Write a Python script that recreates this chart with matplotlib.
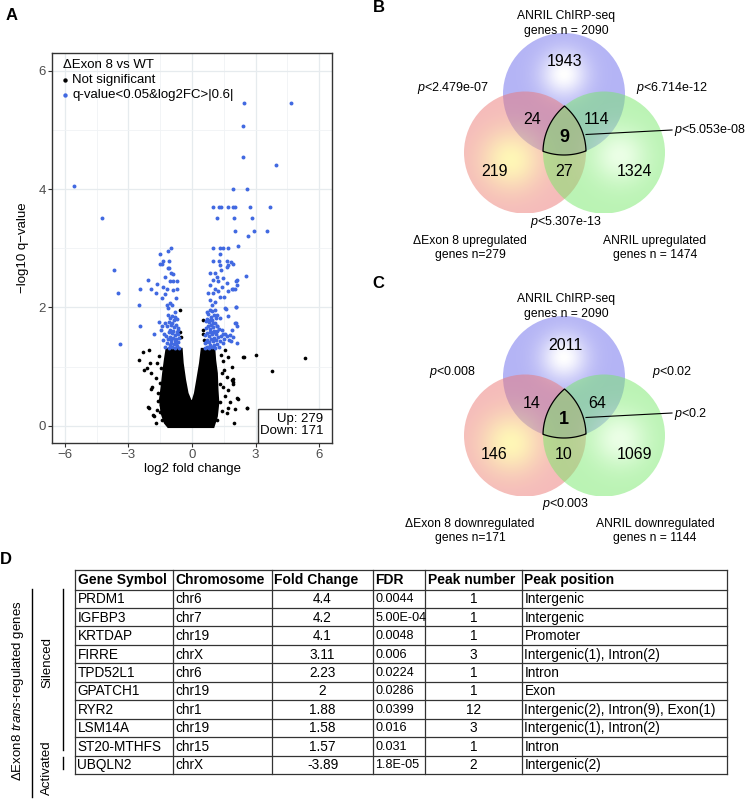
import numpy as np
import matplotlib.pyplot as plt
from matplotlib.patches import Circle, Rectangle, Polygon

plt.rcParams['font.family'] = ['Liberation Sans', 'DejaVu Sans']
plt.rcParams['mathtext.fontset'] = 'custom'
plt.rcParams['mathtext.it'] = 'Liberation Sans:italic'
plt.rcParams['mathtext.rm'] = 'Liberation Sans'

# ---------------- panel A: volcano plot ----------------
# outline of the solid block of non-significant genes
core_x = [-1.20, -1.28, -1.36, -1.43, -1.51, -1.43, -1.28, -1.12, 1.01, 1.17, 1.24,
          1.20, 1.17, 1.09, 1.05, 0.46, 0.38, 0.25, 0.14, 0.03, -0.06, -0.21, -0.33,
          -0.44, -0.49]
core_y = [1.30, 1.11, 0.89, 0.66, 0.44, 0.21, 0.05, -0.02, -0.02, 0.16, 0.39,
          0.61, 0.89, 1.11, 1.30, 1.30, 1.06, 0.78, 0.55, 0.42, 0.42, 0.55, 0.78,
          1.06, 1.30]
# scattered non-significant genes around the block
ns_x = [-2.52, -2.33, -2.03, -2.25, -2.12, -1.90, -2.06, -1.78, -1.93, -2.00, -1.64,
        -1.70, -1.51, -1.91, -1.38, -1.59, -2.02, -1.83, -1.51, -1.43, -1.67, -1.55,
        -1.45, -1.60, -1.48, -1.72, -0.57, -0.55, -0.52,
        2.41, 3.04, 5.31, 3.78, 1.92, 1.92, 1.92, 2.16, 2.03, 2.61, 1.98, 1.56, 1.71,
        1.87, 1.40, 1.64, 1.87, 1.48, 1.71, 1.56, 2.14, 1.32, 1.71, 2.58, 2.43, 1.64,
        1.17, 1.45, 1.35, 1.52, 1.30, 1.42, 1.80, 0.53, 0.50, 0.55, 0.52]
ns_y = [1.11, 1.24, 1.28, 0.95, 0.97, 0.65, 0.32, 0.17, 0.90, 1.06, 1.06,
        0.80, 0.72, 0.62, 0.55, 0.42, 0.30, 0.19, 0.24, 0.10, 0.27, 1.18,
        0.98, 0.55, 0.35, 0.05, 1.96, 1.58, 1.50,
        1.16, 1.20, 1.14, 0.92, 0.79, 0.74, 0.70, 0.46, 0.28, 0.30, 0.05, 1.28, 1.17,
        1.00, 0.89, 0.83, 0.78, 0.66, 0.61, 0.50, 0.47, 0.41, 0.30, 0.30, 1.17, 0.21,
        0.10, 1.10, 1.20, 0.95, 0.70, 0.25, 0.40, 1.78, 1.55, 1.45, 1.62]
# significant, down-regulated
down_x = [-5.56, -4.24, -3.68, -3.50, -3.40, -2.46, -2.08, -1.94, -2.50, -2.47, -1.71,
          -1.64, -1.78, -1.54, -1.43,
          -1.51, -1.12, -1.01, -1.42, -1.07, -1.36, -1.12, -0.99, -0.88, -1.28, -1.04,
          -0.91, -0.72, -1.36, -1.20, -0.91, -0.69, -1.28, -1.43, -0.76, -1.04, -1.20,
          -0.96, -1.12, -0.80, -1.53, -1.08,
          -0.62, -0.70, -0.78, -0.85, -0.93, -1.02, -1.10, -1.18, -1.25, -0.66, -0.74,
          -0.81, -0.90, -0.97, -1.05, -1.13, -1.22, -0.64, -0.72, -0.80, -0.88, -0.95,
          -1.03, -1.10, -1.30, -0.68, -0.77, -0.85, -0.92, -1.00, -1.08, -1.17, -0.70,
          -0.79, -0.87, -0.95, -1.02, -1.15, -0.74, -0.98, -0.66, -1.38, -1.45, -0.60,
          -1.27]
down_y = [4.06, 3.52, 2.63, 2.25, 1.38, 2.32, 2.47, 2.31, 2.05, 1.69, 2.24,
          2.40, 1.55, 1.76, 1.68,
          2.91, 2.96, 3.00, 2.73, 2.79, 2.78, 2.66, 2.58, 2.57, 2.52, 2.44,
          2.44, 2.44, 2.35, 2.31, 2.30, 2.32, 2.23, 2.16, 2.16, 2.08, 2.04,
          2.04, 1.99, 1.93, 2.73, 2.67,
          1.32, 1.35, 1.31, 1.38, 1.33, 1.36, 1.32, 1.40, 1.34, 1.42, 1.46,
          1.44, 1.49, 1.45, 1.50, 1.47, 1.52, 1.55, 1.58, 1.54, 1.60, 1.57,
          1.62, 1.58, 1.56, 1.66, 1.70, 1.67, 1.73, 1.70, 1.76, 1.68, 1.80,
          1.84, 1.78, 1.86, 1.82, 1.88, 1.38, 1.40, 1.62, 1.45, 1.62, 1.48,
          1.74]
# significant, up-regulated
up_x = [2.47, 4.69, 2.42, 2.42, 3.95, 1.95, 2.57,
        0.99, 1.29, 1.36, 1.70, 1.95, 2.03, 2.74, 3.68, 1.18, 2.00, 2.82, 2.05, 2.90,
        3.54, 2.66, 2.17, 0.98, 1.32, 1.48, 1.70,
        1.32, 1.01, 1.25, 1.63, 1.86, 1.95, 1.32, 1.70, 1.67, 1.36, 2.55, 2.11, 2.11,
        1.95,
        0.85, 1.09, 1.20, 0.98, 1.24, 1.48, 1.64, 1.40, 1.71, 1.87, 2.08, 2.03, 0.85,
        1.09, 0.77, 1.01, 1.24, 1.32, 1.51, 0.85, 1.09, 0.93, 0.85, 1.09, 1.17, 1.32,
        1.56, 2.08, 1.71, 2.03, 2.11, 1.87, 0.85, 1.01, 1.17, 1.40, 1.56, 1.64, 1.01,
        1.61, 2.06, 2.06, 1.95, 2.14, 1.80, 1.48, 1.76, 1.83,
        0.62, 0.70, 0.78, 0.86, 0.94, 1.02, 1.10, 1.18, 1.26, 0.65, 0.73, 0.81, 0.89,
        0.97, 1.05, 1.13, 1.22, 1.32, 0.63, 0.71, 0.79, 0.87, 0.95, 1.03, 1.11, 1.20,
        0.67, 0.75, 0.83, 0.91, 0.99, 1.07, 1.16, 0.64, 0.72, 0.80, 0.88, 0.96, 1.04,
        1.13, 0.69, 0.77, 0.92, 1.38, 1.45, 1.28, 0.60, 1.50]
up_y = [5.45, 5.45, 5.07, 4.55, 4.41, 4.00, 4.00,
        3.70, 3.70, 3.70, 3.70, 3.70, 3.70, 3.70, 3.70, 3.52, 3.52, 3.52, 3.30, 3.30,
        3.30, 3.20, 3.04, 3.00, 3.00, 3.00, 3.00,
        2.91, 2.79, 2.79, 2.79, 2.76, 2.73, 2.71, 2.71, 2.68, 2.64, 2.54, 2.46, 2.38,
        2.32,
        2.59, 2.58, 2.52, 2.46, 2.44, 2.49, 2.41, 2.35, 2.27, 2.32, 2.45, 2.32, 2.38,
        2.32, 2.24, 2.24, 2.27, 2.18, 2.18, 2.13, 2.10, 2.04, 1.96, 1.96, 1.87, 1.82,
        1.99, 2.00, 1.85, 1.73, 1.68, 1.62, 1.79, 1.73, 1.68, 1.62, 1.56, 1.51, 1.59,
        1.97, 2.00, 1.74, 1.50, 1.40, 1.54, 1.56, 1.45, 1.44,
        1.31, 1.34, 1.32, 1.37, 1.33, 1.36, 1.31, 1.38, 1.33, 1.42, 1.45, 1.41, 1.47,
        1.44, 1.49, 1.45, 1.50, 1.43, 1.53, 1.57, 1.52, 1.58, 1.55, 1.60, 1.56, 1.61,
        1.65, 1.68, 1.64, 1.71, 1.67, 1.73, 1.69, 1.77, 1.81, 1.76, 1.84, 1.79, 1.87,
        1.82, 1.92, 1.89, 1.94, 1.52, 1.40, 1.64, 1.40, 1.47]
n_up, n_down = 279, 171

# ---------------- panels B and C: Venn diagrams ----------------
# region order: ChIRP only, dExon8 only, ANRIL only, ChIRP&dExon8, ChIRP&ANRIL, dExon8&ANRIL, all three
venn_b_counts = [1943, 219, 1324, 24, 114, 27, 9]
venn_c_counts = [2011, 146, 1069, 14, 64, 10, 1]
# p-values: ChIRP&dExon8, ChIRP&ANRIL, dExon8&ANRIL, all three
venn_b_pvals = ['2.479e-07', '6.714e-12', '5.307e-13', '5.053e-08']
venn_c_pvals = ['0.008', '0.02', '0.003', '0.2']
venn_b_sets = ['ANRIL ChIRP-seq\ngenes n = 2090', '\u0394Exon 8 upregulated\ngenes n=279',
               'ANRIL upregulated\ngenes n = 1474']
venn_c_sets = ['ANRIL ChIRP-seq\ngenes n = 2090', '\u0394Exon 8 downregulated\ngenes n=171',
               'ANRIL downregulated\ngenes n = 1144']

# ---------------- panel D: table ----------------
table_header = ['Gene Symbol', 'Chromosome', 'Fold Change', 'FDR', 'Peak number', 'Peak position']
gene_symbols = ['PRDM1', 'IGFBP3', 'KRTDAP', 'FIRRE', 'TPD52L1', 'GPATCH1', 'RYR2',
                'LSM14A', 'ST20-MTHFS', 'UBQLN2']
chromosomes = ['chr6', 'chr7', 'chr19', 'chrX', 'chr6', 'chr19', 'chr1', 'chr19', 'chr15', 'chrX']
fold_changes = ['4.4', '4.2', '4.1', '3.11', '2.23', '2', '1.88', '1.58', '1.57', '-3.89']
fdr_values = ['0.0044', '5.00E-04', '0.0048', '0.006', '0.0224', '0.0286', '0.0399',
              '0.016', '0.031', '1.8E-05']
peak_numbers = ['1', '1', '1', '3', '1', '1', '12', '3', '1', '2']
peak_positions = ['Intergenic', 'Intergenic', 'Promoter', 'Intergenic(1), Intron(2)', 'Intron',
                  'Exon', 'Intergenic(2), Intron(9), Exon(1)', 'Intergenic(1), Intron(2)',
                  'Intron', 'Intergenic(2)']

W, H = 752, 801
fig = plt.figure(figsize=(W / 100, H / 100), dpi=100)

# ---- volcano ----
axv = fig.add_axes([52 / W, (H - 443) / H, 280 / W, 390 / H])
axv.set_xlim(-6.6, 6.6)
axv.set_ylim(-0.29, 6.3)
axv.set_xticks([-6, -3, 0, 3, 6])
axv.set_yticks([0, 2, 4, 6])
axv.set_xticks([-4.5, -1.5, 1.5, 4.5], minor=True)
axv.set_yticks([1, 3, 5], minor=True)
axv.grid(True, which='major', color='#e6ebee', lw=0.9)
axv.grid(True, which='minor', color='#f0f3f5', lw=0.6)
axv.set_axisbelow(True)
axv.tick_params(which='major', length=3, color='#333333', labelsize=9.5, labelcolor='#4d4d4d', pad=1.5)
axv.tick_params(which='minor', length=0)
for s in axv.spines.values():
    s.set_color('#333333')
    s.set_linewidth(1.0)
axv.fill(core_x, core_y, color='black', lw=1.5, zorder=2)
axv.scatter(ns_x, ns_y, s=7, color='black', lw=0, zorder=3)
axv.scatter(down_x + up_x, down_y + up_y, s=8, color='#4169e1', lw=0, zorder=4)
axv.set_xlabel('log2 fold change', fontsize=9.5, labelpad=1)
axv.set_ylabel('\u2212log10 q\u2212value', fontsize=9.5, labelpad=7)
axv.text(0.038, 0.969, '\u0394Exon 8 vs WT', transform=axv.transAxes, fontsize=9.5, va='center')
axv.scatter([0.046], [0.931], s=10, color='black', lw=0, transform=axv.transAxes, clip_on=False)
axv.scatter([0.046], [0.892], s=10, color='#4169e1', lw=0, transform=axv.transAxes, clip_on=False)
axv.text(0.0725, 0.931, 'Not significant', transform=axv.transAxes, fontsize=9.5, va='center')
axv.text(0.0725, 0.892, 'q-value<0.05&log2FC>|0.6|', transform=axv.transAxes, fontsize=9.5, va='center')
axv.add_patch(Rectangle((0.735, 0), 0.265, 0.087, transform=axv.transAxes, facecolor='white',
                        edgecolor='#333333', lw=1.0, zorder=5))
axv.text(0.968, 0.062, f'Up: {n_up}', transform=axv.transAxes, fontsize=9.5, ha='right',
         va='center', zorder=6)
axv.text(0.968, 0.030, f'Down: {n_down}', transform=axv.transAxes, fontsize=9.5, ha='right',
         va='center', zorder=6)

# ---- overlay in pixel units for the Venns, table and panel letters ----
ax = fig.add_axes([0, 0, 1, 1])
ax.axis('off')


def disc(cx, cy, r, base, glow, gdx, gdy, spread=0.42, a=0.5):
    n = 160
    X, Y = np.meshgrid(np.linspace(cx - r, cx + r, n), np.linspace(cy - r, cy + r, n))
    d = np.hypot(X - (cx + gdx), Y - (cy + gdy)) / r
    w = np.exp(-(d / spread) ** 2)[..., None]
    rgb = (np.array(base) * (1 - w) + np.array(glow) * w) / 255
    img = np.dstack([rgb, np.full((n, n), a)])
    im = ax.imshow(img, extent=(cx - r, cx + r, cy + r, cy - r), origin='upper',
                   aspect='auto', interpolation='bilinear', zorder=1)
    im.set_clip_path(Circle((cx, cy), r, transform=ax.transData))


def triple_outline(centers, r):
    th = np.linspace(0, 2 * np.pi, 1440)
    pts = []
    for i, (cx, cy) in enumerate(centers):
        px, py = cx + r * np.cos(th), cy + r * np.sin(th)
        keep = np.ones_like(th, bool)
        for j, (ox, oy) in enumerate(centers):
            if j != i:
                keep &= (px - ox) ** 2 + (py - oy) ** 2 <= r * r
        pts.append(np.c_[px[keep], py[keep]])
    pts = np.vstack(pts)
    c = pts.mean(0)
    return pts[np.argsort(np.arctan2(pts[:, 1] - c[1], pts[:, 0] - c[0]))]


def venn(off, counts, pvals, sets):
    r = 61
    top, left, right = (564, 94 + off), (525, 152.5 + off), (604, 152.5 + off)
    disc(*top, r, (105, 105, 235), (255, 255, 255), 0, -20, 0.38)
    disc(*left, r, (235, 118, 118), (255, 238, 110), -14, 8, 0.5)
    disc(*right, r, (118, 232, 105), (215, 255, 205), 16, 4, 0.45)
    ax.add_patch(Polygon(triple_outline([top, left, right], r), closed=True, fill=False,
                         edgecolor='black', lw=0.9, zorder=3))
    fs = 11.5
    ax.text(565, 62 + off, str(counts[0]), fontsize=fs, ha='center', va='center')
    ax.text(494, 171.7 + off, str(counts[1]), fontsize=fs, ha='center', va='center')
    ax.text(635, 171.7 + off, str(counts[2]), fontsize=fs, ha='center', va='center')
    ax.text(531.7, 120 + off, str(counts[3]), fontsize=fs, ha='center', va='center')
    ax.text(596.7, 120 + off, str(counts[4]), fontsize=fs, ha='center', va='center')
    ax.text(564, 171.7 + off, str(counts[5]), fontsize=fs, ha='center', va='center')
    ax.text(564, 137 + off, str(counts[6]), fontsize=13, fontweight='bold', ha='center', va='center')
    pf = 9
    ax.text(453, 88.5 + off, f'$p$<{pvals[0]}', fontsize=pf, ha='center', va='center')
    ax.text(672, 88.5 + off, f'$p$<{pvals[1]}', fontsize=pf, ha='center', va='center')
    ax.text(566, 221.5 + off, f'$p$<{pvals[2]}', fontsize=pf, ha='center', va='center')
    ax.plot([586, 672], [134.5 + off, 130 + off], color='black', lw=0.8, zorder=3)
    ax.text(674, 130.5 + off, f'$p$<{pvals[3]}', fontsize=pf, ha='left', va='center')
    sf = 8.7
    ax.text(566, 23.5 + off, sets[0], fontsize=sf, ha='center', va='center', linespacing=1.3)
    ax.text(470, 248 + off, sets[1], fontsize=sf, ha='center', va='center', linespacing=1.3)
    ax.text(655, 248 + off, sets[2], fontsize=sf, ha='center', va='center', linespacing=1.3)


venn(0, venn_b_counts, venn_b_pvals, venn_b_sets)
venn(283, venn_c_counts, venn_c_pvals, venn_c_sets)

# ---- table ----
col_x = [75, 173, 272, 373, 425, 522, 727]
row_y = [570, 589.5] + [589.5 + 18.45 * (i + 1) for i in range(len(gene_symbols))]
tc = '#333333'
for yy in row_y:
    ax.plot([col_x[0], col_x[-1]], [yy, yy], color=tc, lw=0.9, zorder=3)
for xx in col_x:
    ax.plot([xx, xx], [row_y[0], row_y[-1]], color=tc, lw=0.9, zorder=3)
tf = 9.8
hy = (row_y[0] + row_y[1]) / 2
for j, h in enumerate(table_header):
    ax.text(col_x[j] + 2.5, hy + 0.5, h, fontsize=10, fontweight='bold', ha='left', va='center')
columns = [gene_symbols, chromosomes, fold_changes, fdr_values, peak_numbers, peak_positions]
centered = [False, False, True, False, True, False]
col_fs = [tf, tf, tf, 9.1, tf, tf]
for i in range(len(gene_symbols)):
    yy = (row_y[i + 1] + row_y[i + 2]) / 2 + 0.5
    for j, col in enumerate(columns):
        if centered[j]:
            ax.text((col_x[j] + col_x[j + 1]) / 2, yy, col[i], fontsize=col_fs[j],
                    ha='center', va='center')
        else:
            ax.text(col_x[j] + 2.5, yy, col[i], fontsize=col_fs[j], ha='left', va='center')

ax.plot([32, 32], [589, 797], color='black', lw=1.0)
ax.plot([62.7, 62.7], [589, 750], color='black', lw=1.0)
ax.plot([62.7, 62.7], [757, 769], color='black', lw=1.0)
ax.text(18, 691, '\u0394Exon8 $trans$-regulated genes', fontsize=9.5, rotation=90,
        ha='center', va='center')
ax.text(47, 663, 'Silenced', fontsize=9.5, rotation=90, ha='center', va='center')
ax.text(47, 768, 'Activated', fontsize=9.5, rotation=90, ha='center', va='center')

# ---- panel letters ----
for lab, (x, y) in {'A': (12, 15), 'B': (379, 7.5), 'C': (378.5, 283), 'D': (6, 560)}.items():
    ax.text(x, y, lab, fontsize=12, fontweight='bold', ha='center', va='center')

ax.set_xlim(0, W)
ax.set_ylim(H, 0)

fig.savefig('out.png', dpi=100)
